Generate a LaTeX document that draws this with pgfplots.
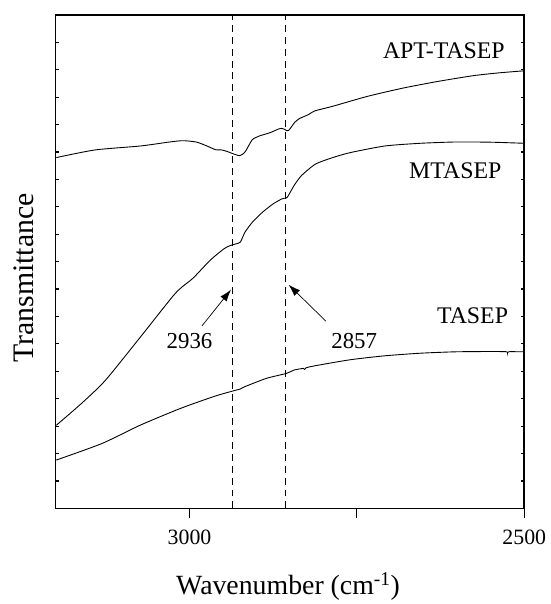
\documentclass[border=0pt]{standalone}
\usepackage{pgfplots}
\pgfplotsset{compat=1.18}
\usetikzlibrary{arrows.meta}
\usepackage{fontspec}
\setmainfont{Liberation Serif}

% FTIR spectra, 3200--2500 cm^-1 (offset traces, arbitrary transmittance)
\pgfplotstableread{
x y
3199 353.3
3141 361.0
3073 365.0
3030 369.0
3010 370.3
2990 369.0
2974 365.0
2961 361.2
2952 361.0
2944 359.5
2937 357.7
2930 356.0
2925 355.3
2920 357.0
2916 360.0
2911 366.0
2906 371.5
2896 375.0
2880 378.3
2868 381.8
2863 382.7
2858 381.8
2855 380.4
2852 380.6
2848 384.0
2843 388.7
2836 392.5
2822 396.7
2813 400.3
2786 405.0
2734 415.0
2681 423.3
2629 430.0
2577 435.7
2540 438.5
2500 440.7
}\apt

\pgfplotstableread{
x y
3199 83.7
3162 105.3
3126 128.7
3074 172.0
3021 216.7
2995 231.7
2969 250.0
2948 261.7
2938 265.0
2930 266.5
2924 268.3
2917 278.3
2906 288.3
2891 298.3
2875 306.7
2862 311.7
2856 312.5
2854 313.3
2849 319.0
2844 325.0
2833 335.0
2812 346.7
2786 353.3
2760 358.3
2708 365.0
2655 367.7
2603 369.0
2550 368.8
2500 367.7
}\mta

\pgfplotstableread{
x y
3199 48.7
3131 65.3
3074 83.7
3021 98.7
2995 105.3
2959 113.7
2930 119.2
2924 120.3
2917 122.7
2885 131.0
2855 136.0
2844 139.3
2830 141.0
2828 140.0
2826 141.6
2812 143.7
2760 149.7
2708 153.7
2655 156.3
2603 157.7
2551 158.0
2527 157.8
2525 156.6
2523 157.8
2500 157.7
}\tas

\begin{document}
\begin{tikzpicture}
\begin{axis}[
  scale only axis,
  width=472pt, height=497pt,
  xmin=2500, xmax=3200, x dir=reverse,
  ymin=0, ymax=497,
  axis line style={line width=1.6pt},
  tick align=inside,
  xtick pos=lower,
  ytick pos=both,
  major tick length=3pt,
  every tick/.style={black, line width=1.2pt},
  xtick=\empty,
  ytick={27.61,55.22,82.83,110.44,138.06,165.67,193.28,220.89,248.5,276.11,303.72,331.33,358.94,386.56,414.17,441.78,469.39},
  yticklabels={},
  extra x ticks={3000,2750,2500},
  extra x tick labels={3000,,2500},
  extra x tick style={tick align=outside, major tick length=10pt},
  /pgf/number format/assume math mode=true,
  /pgf/number format/1000 sep={},
  tick label style={font=\fontsize{22}{26}\selectfont},
  xticklabel style={yshift=-8pt},
  xlabel={Wavenumber (cm\textsuperscript{-1})},
  ylabel={Transmittance},
  xlabel style={font=\fontsize{28}{32}\selectfont, at={(axis description cs:0.496,-0.175)}, anchor=base},
  ylabel style={font=\fontsize{30}{34}\selectfont, at={(axis description cs:-0.068,0.467)}, anchor=center},
  clip=false,
]
\addplot[black, line width=0.9pt, smooth, tension=0.4] table {\apt};
\addplot[black, line width=0.9pt, smooth, tension=0.4] table {\mta};
\addplot[black, line width=0.9pt, smooth, tension=0.4] table {\tas};

\addplot[black, line width=1.3pt, dash pattern=on 7pt off 5pt] coordinates {(2936,0) (2936,497)};
\addplot[black, line width=1.3pt, dash pattern=on 7pt off 5pt] coordinates {(2857,0) (2857,497)};

\node[anchor=east, font=\fontsize{24}{28}\selectfont] at (axis cs:2524,461) {APT-TASEP};
\node[anchor=east, font=\fontsize{24}{28}\selectfont] at (axis cs:2529,340) {MTASEP};
\node[anchor=east, font=\fontsize{24}{28}\selectfont] at (axis cs:2519,193.7) {TASEP};

\node[font=\fontsize{23}{27}\selectfont] at (axis cs:3000,168.7) {2936};
\node[font=\fontsize{23}{27}\selectfont] at (axis cs:2754,168.7) {2857};

\draw[line width=0.7pt, -{Latex[length=12pt,width=8pt]}] (axis cs:2981.5,183.7) -- (axis cs:2938,220.3);
\draw[line width=0.7pt, -{Latex[length=12pt,width=8pt]}] (axis cs:2796.5,188.7) -- (axis cs:2852,225.3);
\end{axis}
\path ([xshift=-56pt,yshift=-92pt]current axis.south west) rectangle ([xshift=26pt,yshift=15pt]current axis.north east);
\end{tikzpicture}
\end{document}
